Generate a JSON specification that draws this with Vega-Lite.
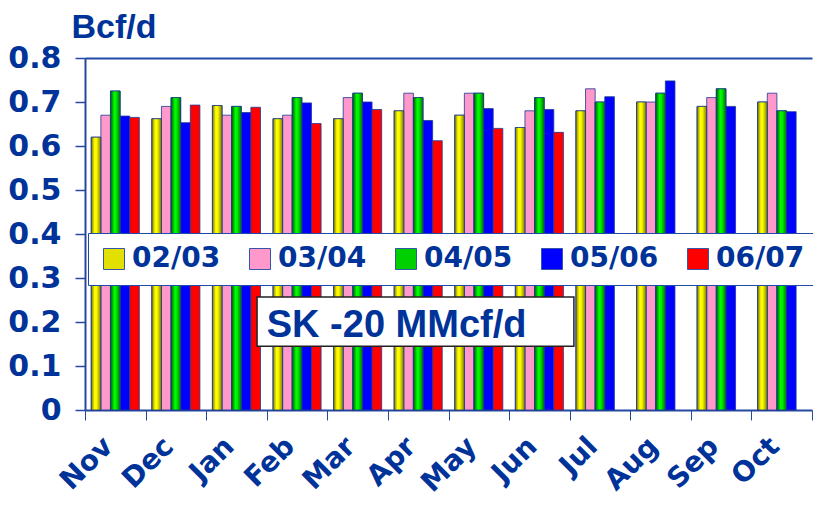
{
  "$schema": "https://vega.github.io/schema/vega-lite/v6.json",
  "width": 727,
  "height": 352,
  "autosize": "none",
  "padding": {"left": 85, "top": 58, "right": 1, "bottom": 95},
  "background": "white",
  "config": {"view": {"stroke": null}},
  "data": {"values": [
    {"month": "Nov", "series": "02/03", "value": 0.62},
    {"month": "Nov", "series": "03/04", "value": 0.67},
    {"month": "Nov", "series": "04/05", "value": 0.725},
    {"month": "Nov", "series": "05/06", "value": 0.668},
    {"month": "Nov", "series": "06/07", "value": 0.665},
    {"month": "Dec", "series": "02/03", "value": 0.662},
    {"month": "Dec", "series": "03/04", "value": 0.69},
    {"month": "Dec", "series": "04/05", "value": 0.71},
    {"month": "Dec", "series": "05/06", "value": 0.653},
    {"month": "Dec", "series": "06/07", "value": 0.693},
    {"month": "Jan", "series": "02/03", "value": 0.692},
    {"month": "Jan", "series": "03/04", "value": 0.67},
    {"month": "Jan", "series": "04/05", "value": 0.69},
    {"month": "Jan", "series": "05/06", "value": 0.676},
    {"month": "Jan", "series": "06/07", "value": 0.688},
    {"month": "Feb", "series": "02/03", "value": 0.662},
    {"month": "Feb", "series": "03/04", "value": 0.67},
    {"month": "Feb", "series": "04/05", "value": 0.71},
    {"month": "Feb", "series": "05/06", "value": 0.698},
    {"month": "Feb", "series": "06/07", "value": 0.651},
    {"month": "Mar", "series": "02/03", "value": 0.662},
    {"month": "Mar", "series": "03/04", "value": 0.71},
    {"month": "Mar", "series": "04/05", "value": 0.72},
    {"month": "Mar", "series": "05/06", "value": 0.7},
    {"month": "Mar", "series": "06/07", "value": 0.683},
    {"month": "Apr", "series": "02/03", "value": 0.68},
    {"month": "Apr", "series": "03/04", "value": 0.72},
    {"month": "Apr", "series": "04/05", "value": 0.71},
    {"month": "Apr", "series": "05/06", "value": 0.658},
    {"month": "Apr", "series": "06/07", "value": 0.612},
    {"month": "May", "series": "02/03", "value": 0.67},
    {"month": "May", "series": "03/04", "value": 0.72},
    {"month": "May", "series": "04/05", "value": 0.72},
    {"month": "May", "series": "05/06", "value": 0.685},
    {"month": "May", "series": "06/07", "value": 0.64},
    {"month": "Jun", "series": "02/03", "value": 0.642},
    {"month": "Jun", "series": "03/04", "value": 0.68},
    {"month": "Jun", "series": "04/05", "value": 0.71},
    {"month": "Jun", "series": "05/06", "value": 0.683},
    {"month": "Jun", "series": "06/07", "value": 0.631},
    {"month": "Jul", "series": "02/03", "value": 0.68},
    {"month": "Jul", "series": "03/04", "value": 0.73},
    {"month": "Jul", "series": "04/05", "value": 0.7},
    {"month": "Jul", "series": "05/06", "value": 0.712},
    {"month": "Aug", "series": "02/03", "value": 0.7},
    {"month": "Aug", "series": "03/04", "value": 0.7},
    {"month": "Aug", "series": "04/05", "value": 0.72},
    {"month": "Aug", "series": "05/06", "value": 0.748},
    {"month": "Sep", "series": "02/03", "value": 0.69},
    {"month": "Sep", "series": "03/04", "value": 0.71},
    {"month": "Sep", "series": "04/05", "value": 0.73},
    {"month": "Sep", "series": "05/06", "value": 0.69},
    {"month": "Oct", "series": "02/03", "value": 0.7},
    {"month": "Oct", "series": "03/04", "value": 0.72},
    {"month": "Oct", "series": "04/05", "value": 0.68},
    {"month": "Oct", "series": "05/06", "value": 0.678}
  ]},
  "layer": [
    {
      "encoding": {
        "x": {
          "field": "month", "type": "nominal",
          "sort": ["Nov", "Dec", "Jan", "Feb", "Mar", "Apr", "May", "Jun", "Jul", "Aug", "Sep", "Oct"],
          "scale": {"paddingInner": 0, "paddingOuter": 0},
          "axis": {
            "title": null, "orient": "bottom", "tickBand": "extent",
            "domainColor": "#2448a0", "domainWidth": 2, "tickColor": "#2448a0", "tickWidth": 1, "tickSize": 10,
            "labelAngle": -45, "labelAlign": "right", "labelBaseline": "middle", "labelPadding": 22, "labelOffset": -7,
            "labelFont": "DejaVu Sans", "labelFontWeight": "bold", "labelFontSize": 28, "labelColor": "#003399"
          }
        },
        "xOffset": {"field": "series", "type": "nominal", "scale": {"domain": ["02/03", "03/04", "04/05", "05/06", "06/07"], "paddingInner": 0, "paddingOuter": 0.65}},
        "y": {
          "field": "value", "type": "quantitative",
          "scale": {"domain": [0, 0.8], "nice": false},
          "axis": {
            "values": [0, 0.1, 0.2, 0.3, 0.4, 0.5, 0.6, 0.7, 0.8], "format": ".1~f", "grid": false,
            "domainColor": "#2448a0", "domainWidth": 2, "tickColor": "#2448a0", "tickWidth": 1.5, "tickSize": 10,
            "labelFont": "DejaVu Sans", "labelFontWeight": "bold", "labelFontSize": 30, "labelColor": "#003399", "labelPadding": 14,
            "title": "Bcf/d", "titleAngle": 0, "titleAlign": "left", "titleBaseline": "alphabetic",
            "titleX": -14, "titleY": -21, "titleFont": "Liberation Sans", "titleFontWeight": "bold", "titleFontSize": 34, "titleColor": "#003399"
          }
        }
      },
      "layer": [
        {
          "mark": {"type": "bar", "stroke": "#1c3a94", "strokeWidth": 1, "strokeOpacity": 0.8},
          "encoding": {
            "color": {
              "field": "series", "type": "nominal",
              "scale": {
                "domain": ["02/03", "03/04", "04/05", "05/06", "06/07"],
                "range": ["#e2e000", "#ff99cc", "#00d000", "#0000ff", "#ff0000"]
              },
              "legend": {
                "title": null, "orient": "none", "legendX": 3, "legendY": 175, "direction": "horizontal", "columns": 5,
                "fillColor": "white", "strokeColor": "#1f4aa8", "padding": 12,
                "symbolType": "square", "symbolSize": 441, "symbolStrokeColor": "#3355aa", "symbolStrokeWidth": 1, "symbolOpacity": 1,
                "labelFont": "DejaVu Sans", "labelFontWeight": "bold", "labelFontSize": 28, "labelColor": "#003399",
                "labelOffset": 4, "columnPadding": 25, "labelLimit": 300
              }
            }
          }
        },
        {
          "transform": [{"filter": "datum.series === '02/03'"}],
          "mark": {"type": "bar", "stroke": "#1c3a94", "strokeWidth": 1, "strokeOpacity": 0.8,
            "color": {"gradient": "linear", "x1": 0, "y1": 0, "x2": 1, "y2": 0, "stops": [
              {"offset": 0, "color": "#7a7400"}, {"offset": 0.35, "color": "#ffff00"}, {"offset": 0.55, "color": "#f8f800"}, {"offset": 1, "color": "#7f7a00"}]}}
        },
        {
          "transform": [{"filter": "datum.series === '04/05'"}],
          "mark": {"type": "bar", "stroke": "#1c3a94", "strokeWidth": 1, "strokeOpacity": 0.8,
            "color": {"gradient": "linear", "x1": 0, "y1": 0, "x2": 1, "y2": 0, "stops": [
              {"offset": 0, "color": "#005a00"}, {"offset": 0.4, "color": "#00ff00"}, {"offset": 0.6, "color": "#00e800"}, {"offset": 1, "color": "#007000"}]}}
        }
      ]
    },
    {
      "data": {"values": [{"label": "SK -20 MMcf/d"}]},
      "layer": [
        {
          "mark": {"type": "rect", "fill": "white", "stroke": "#222222", "strokeWidth": 1.5},
          "encoding": {
            "x": {"datum": 2.84, "type": "quantitative", "scale": {"domain": [0, 12], "nice": false, "zero": false},
              "axis": {"orient": "top", "labels": false, "ticks": false, "grid": false, "title": null, "domainColor": "#1f4aa8", "domainWidth": 2}},
            "x2": {"datum": 8.07},
            "y": {"datum": 0.257, "type": "quantitative"},
            "y2": {"datum": 0.145}
          }
        },
        {
          "mark": {"type": "text", "align": "left", "baseline": "alphabetic", "font": "Liberation Sans", "fontWeight": "bold", "fontSize": 38, "fill": "#003399"},
          "encoding": {
            "x": {"datum": 3.0, "type": "quantitative"},
            "y": {"datum": 0.167, "type": "quantitative"},
            "text": {"field": "label"}
          }
        }
      ]
    }
  ],
  "resolve": {"scale": {"x": "independent"}, "axis": {"x": "independent"}}
}
